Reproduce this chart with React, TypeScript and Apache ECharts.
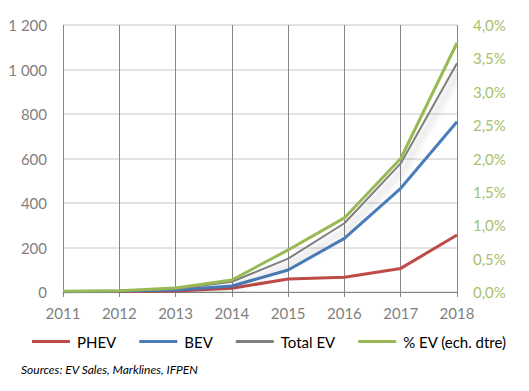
import React, { useEffect, useRef } from "react";
import * as echarts from "echarts";

const years = ["2011", "2012", "2013", "2014", "2015", "2016", "2017", "2018"];
const phev = [1, 2, 5, 17, 58, 66, 106, 256];
const bev = [1, 4, 9, 27, 99, 241, 466, 765];
const totalEv = [2, 6, 14, 46, 150, 309, 578, 1028];
const pctEv = [0.01, 0.02, 0.06, 0.18, 0.63, 1.11, 2.0, 3.73];

const FONT = "Lato";

export default function App() {
  const ref = useRef<HTMLDivElement>(null);
  useEffect(() => {
    const chart = echarts.init(ref.current!, null, { renderer: "svg" });
    chart.setOption({
      animation: false,
      backgroundColor: "#ffffff",
      grid: { left: 63, right: 72, top: 25, bottom: 99, containLabel: false },
      xAxis: {
        type: "category",
        data: years,
        boundaryGap: false,
        axisLine: { show: true, lineStyle: { color: "#868686", width: 1 } },
        axisTick: { show: true, length: 5, lineStyle: { color: "#868686" } },
        axisLabel: { color: "#7f7f7f", fontSize: 15, fontFamily: FONT, margin: 13 },
        splitLine: { show: true, lineStyle: { color: "#868686", width: 1 } },
      },
      yAxis: [
        {
          type: "value",
          min: 0,
          max: 1200,
          interval: 200,
          axisLine: { show: false },
          axisTick: { show: false },
          axisLabel: {
            color: "#7f7f7f",
            fontSize: 15,
            fontFamily: FONT,
            margin: 16,
            formatter: (v: number) => String(v).replace(/\B(?=(\d{3})+(?!\d))/g, " "),
          },
          splitLine: { show: true, lineStyle: { color: "#d9d9d9", width: 1.5 } },
        },
        {
          type: "value",
          min: 0,
          max: 4,
          interval: 0.5,
          position: "right",
          axisLine: { show: false },
          axisTick: { show: false },
          axisLabel: {
            color: "#a6c16e",
            fontSize: 15,
            fontFamily: FONT,
            margin: 16,
            formatter: (v: number) => v.toFixed(1).replace(".", ",") + "%",
          },
          splitLine: { show: false },
        },
      ],
      legend: {
        left: 27,
        top: 329,
        itemWidth: 38,
        itemHeight: 3,
        itemGap: 23,
        icon: "rect",
        textStyle: { color: "#000000", fontSize: 15, fontFamily: FONT, padding: [0, 0, 0, 2] },
        data: ["PHEV", "BEV", "Total EV", "% EV (ech. dtre)"],
      },
      series: [
        {
          name: "PHEV",
          type: "line",
          data: phev,
          symbol: "none",
          lineStyle: { color: "#be4b48", width: 3 },
          itemStyle: { color: "#be4b48" },
          z: 3,
        },
        {
          name: "BEV",
          type: "line",
          data: bev,
          symbol: "none",
          lineStyle: { color: "#4a7ebb", width: 3 },
          itemStyle: { color: "#4a7ebb" },
          z: 3,
        },
        {
          name: "Total EV",
          type: "line",
          data: totalEv,
          symbol: "none",
          lineStyle: {
            color: "#7f7f7f",
            width: 2,
            shadowColor: "rgba(0,0,0,0.28)",
            shadowBlur: 7,
            shadowOffsetX: 3,
            shadowOffsetY: 6,
          },
          itemStyle: { color: "#7f7f7f" },
          z: 4,
        },
        {
          name: "% EV (ech. dtre)",
          type: "line",
          yAxisIndex: 1,
          data: pctEv,
          symbol: "none",
          lineStyle: { color: "#98b954", width: 3 },
          itemStyle: { color: "#98b954" },
          z: 5,
        },
      ],
      graphic: [
        {
          type: "text",
          left: 21,
          top: 363,
          style: {
            text: "Sources: EV Sales, Marklines, IFPEN",
            fill: "#000000",
            font: "italic 12px Lato",
          },
        },
      ],
    });
    return () => chart.dispose();
  }, []);
  return <div ref={ref} style={{ width: 529, height: 391, margin: -8 }} />;
}
